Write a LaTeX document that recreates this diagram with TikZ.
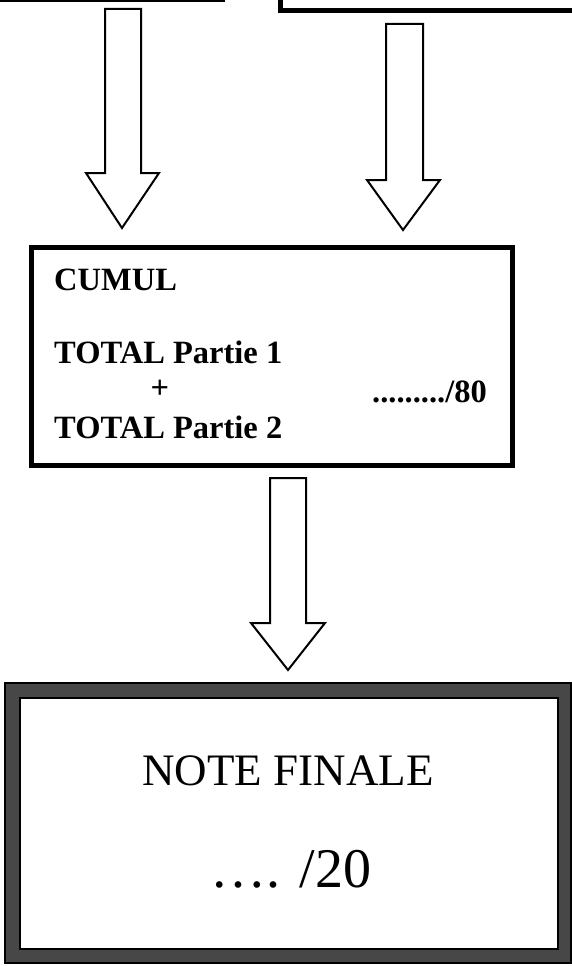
\documentclass[tikz,border=0pt]{standalone}
\usepackage{fontspec}
\setmainfont{Liberation Serif}
\begin{document}
\begin{tikzpicture}[x=1pt,y=-1pt,
  blockarrow/.style={draw=black,line width=2pt,fill=white,line join=miter},
  boxline/.style={draw=black,line width=5pt},
  cumultext/.style={inner sep=0pt,font=\fontsize{32.5}{38}\selectfont\bfseries},
  finaltext/.style={inner sep=0pt,font=\fontsize{45}{52}\selectfont},
  scoretext/.style={inner sep=0pt,font=\fontsize{56}{64}\selectfont}]
\useasboundingbox (0,0) rectangle (572,966);
\fill[white] (0,0) rectangle (572,966);
% top boxes (cut off)
\draw[line width=3pt] (0,0.5) -- (225,0.5);
\draw[boxline] (280,-5) -- (280,11) -- (580,11);
% block arrows
\draw[blockarrow] (105,9) -- (141,9) -- (141,173) -- (159,173) -- (122,228) -- (86,173) -- (105,173) -- cycle;
\draw[blockarrow] (386,24) -- (423,24) -- (423,180) -- (440,180) -- (403,230) -- (367,180) -- (386,180) -- cycle;
% CUMUL box
\node[boxline,minimum width=481pt,minimum height=218pt,inner sep=0pt] (cumul) at (272,356) {};
\node[cumultext,anchor=base west] (c1) at (54,290) {CUMUL};
\node[cumultext,anchor=base west] (c2) at (54,363) {TOTAL Partie 1};
\node[cumultext,anchor=base] (c3) at (160,398) {+};
\node[cumultext,anchor=base east] (c5) at (487,402) {........./80};
\node[cumultext,anchor=base west] (c4) at (54,438) {TOTAL Partie 2};
% bottom arrow
\draw[blockarrow] (270,478) -- (306,478) -- (306,623) -- (325,623) -- (288,670) -- (251,623) -- (270,623) -- cycle;
% final box
\fill[black!72,even odd rule] (5,683) rectangle (571,963) (20,698) rectangle (558,949);
\draw[black,line width=1.2pt] (5,683) rectangle (571,963);
\draw[black,line width=1.5pt] (20,698) rectangle (558,949);
\node[inner sep=0pt,minimum width=538pt,minimum height=251pt] (final) at (289,823.5) {};
\node[finaltext,anchor=base] (f1) at (288,785) {NOTE FINALE};
\node[scoretext,anchor=base] (f2) at (291,887) {…. /20};
\end{tikzpicture}
\end{document}
